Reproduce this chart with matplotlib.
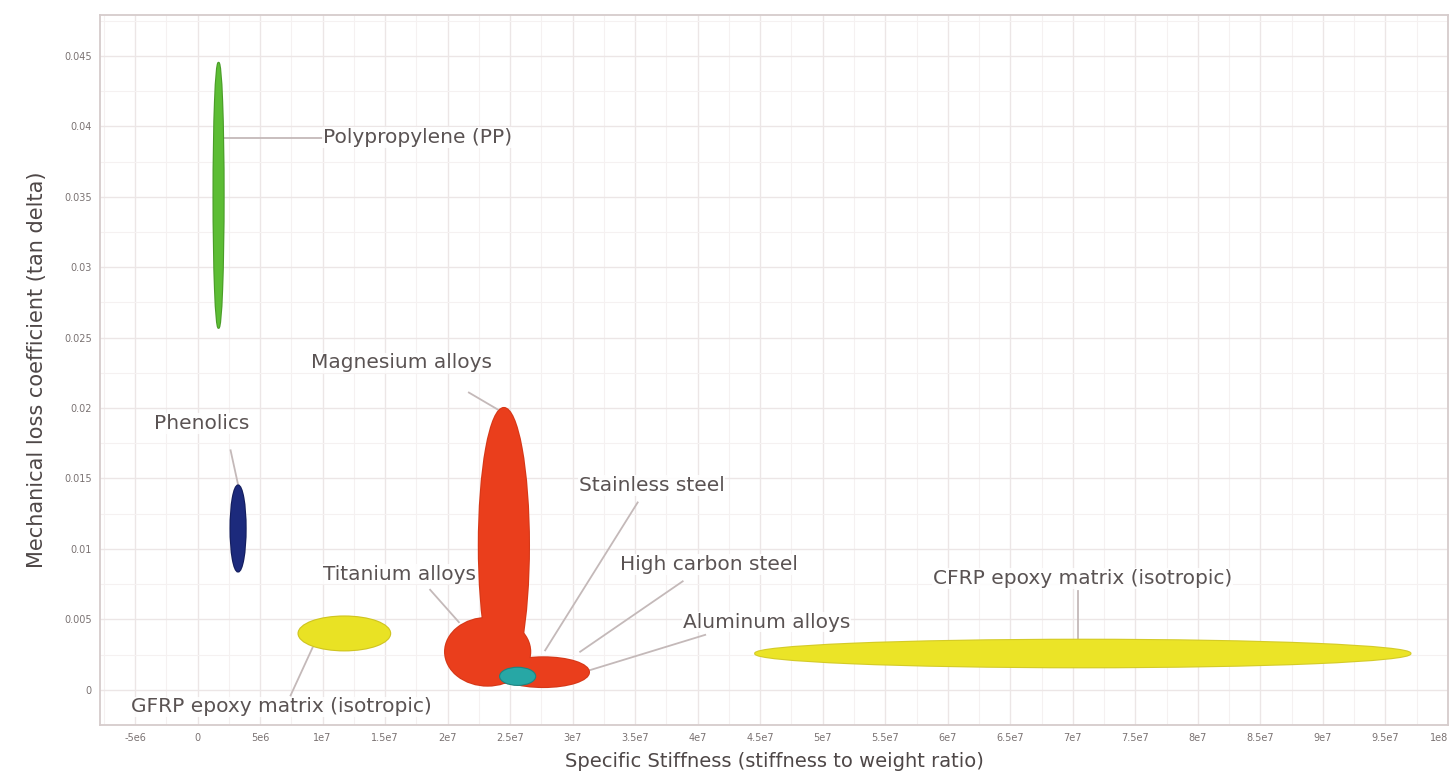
import math

import matplotlib
matplotlib.use("Agg")
import matplotlib.pyplot as plt
from matplotlib.patches import Ellipse
from matplotlib.ticker import FuncFormatter, MultipleLocator

# material property ranges: specific stiffness (min, max) and loss coefficient (min, max)
materials = [
    "Polypropylene (PP)",
    "Phenolics",
    "GFRP epoxy matrix (isotropic)",
    "Titanium alloys",
    "Magnesium alloys",
    "High carbon steel",
    "Stainless steel",
    "CFRP epoxy matrix (isotropic)",
]
stiff_min = [1.28e6, 2.64e6, 8.08e6, 1.98e7, 2.25e7, 2.40e7, 2.42e7, 4.46e7]
stiff_max = [2.08e6, 3.84e6, 1.54e7, 2.66e7, 2.65e7, 3.13e7, 2.70e7, 9.70e7]
loss_min = [0.0257, 0.0084, 0.0028, 0.0003, 0.0005, 0.0002, 0.00035, 0.0016]
loss_max = [0.0445, 0.0145, 0.0052, 0.0051, 0.0200, 0.0023, 0.00156, 0.00355]
fill_colors = ["#5cbd34", "#1c2a7c", "#e9e224", "#ea3e1c", "#ea3e1c", "#ea3e1c", "#27a7a5", "#ebe427"]
edge_colors = ["#4a9c28", "#141e5e", "#cfc421", "#d63818", "#d63818", "#d63818", "#1d8482", "#d4cb28"]

# labels: (text, text x, text y, line from, line to)
labels = [
    ("Polypropylene (PP)", 1.0e7, 0.0392, (1.0e7, 0.0392), (1.84e6, 0.0392)),
    ("Magnesium alloys", 9.04e6, 0.0232, (2.17e7, 0.0211), (2.40e7, 0.0199)),
    ("Phenolics", -3.52e6, 0.0189, (2.64e6, 0.0170), (3.28e6, 0.0144)),
    ("Stainless steel", 3.05e7, 0.0145, (3.52e7, 0.0133), (2.78e7, 0.0028)),
    ("Titanium alloys", 1.0e7, 0.0082, (1.86e7, 0.0071), (2.09e7, 0.0048)),
    ("High carbon steel", 3.38e7, 0.0089, (3.88e7, 0.0077), (3.06e7, 0.0027)),
    ("Aluminum alloys", 3.88e7, 0.0048, (4.06e7, 0.0039), (3.14e7, 0.0014)),
    ("CFRP epoxy matrix (isotropic)", 5.88e7, 0.0079, (7.04e7, 0.0070), (7.04e7, 0.0034)),
    ("GFRP epoxy matrix (isotropic)", -5.36e6, -0.0012, (7.44e6, -0.0004), (9.2e6, 0.0030)),
]


def sci_fmt(v, pos):
    if abs(v) < 1:
        return "0"
    e = int(math.floor(math.log10(abs(v)) + 1e-9))
    m = v / 10 ** e
    return "{:g}e{}".format(round(m, 2), e)


def loss_fmt(v, pos):
    if abs(v) < 1e-9:
        return "0"
    return "{:g}".format(round(v, 4))


fig = plt.figure(figsize=(14.54, 7.74), dpi=100)
ax = fig.add_axes([0.0688, 0.0633, 0.927, 0.9173])

for i in range(len(materials)):
    cx = (stiff_min[i] + stiff_max[i]) / 2
    cy = (loss_min[i] + loss_max[i]) / 2
    w = stiff_max[i] - stiff_min[i]
    h = loss_max[i] - loss_min[i]
    z = 4 if i == 6 else 3
    # outline underneath, fill on top so overlapping blobs merge
    ax.add_patch(Ellipse((cx, cy), w, h, facecolor=edge_colors[i], edgecolor=edge_colors[i],
                         linewidth=1.6, zorder=z))
    ax.add_patch(Ellipse((cx, cy), w, h, facecolor=fill_colors[i], edgecolor="none", zorder=z + 0.5))

for text, tx, ty, p0, p1 in labels:
    ax.plot([p0[0], p1[0]], [p0[1], p1[1]], color="#c4b9b9", linewidth=1.3, zorder=2)
    ax.text(tx, ty, text, ha="left", va="center", fontsize=14.5, color="#5a5353", zorder=5,
            bbox=dict(facecolor="white", edgecolor="none", pad=0.5, alpha=0.85))

ax.set_xlim(-7.8e6, 1.0e8)
ax.set_ylim(-0.0025, 0.0479)
ax.xaxis.set_major_locator(MultipleLocator(5e6))
ax.xaxis.set_minor_locator(MultipleLocator(2.5e6))
ax.yaxis.set_major_locator(MultipleLocator(0.005))
ax.yaxis.set_minor_locator(MultipleLocator(0.0025))
ax.xaxis.set_major_formatter(FuncFormatter(sci_fmt))
ax.yaxis.set_major_formatter(FuncFormatter(loss_fmt))
ax.grid(True, which="major", color="#ece6e6", linewidth=1.0, zorder=0)
ax.grid(True, which="minor", color="#f5f1f1", linewidth=0.8, zorder=0)
ax.set_axisbelow(True)
ax.tick_params(which="both", length=0, labelsize=7, labelcolor="#7a7272", pad=6)

fig.canvas.draw()
# last x tick label sits on the right border, keep it inside the figure
xt = [t for t in ax.get_xticklabels() if t.get_text() == "1e8"]
for t in xt:
    t.set_horizontalalignment("right")

for s in ax.spines.values():
    s.set_color("#d6cccc")
    s.set_linewidth(1.3)

ax.set_xlabel("Specific Stiffness (stiffness to weight ratio)", fontsize=14, color="#4e4747", labelpad=6)
ax.set_ylabel("Mechanical loss coefficient (tan delta)", fontsize=15, color="#4e4747", labelpad=12)

fig.savefig("out.png", dpi=100)
